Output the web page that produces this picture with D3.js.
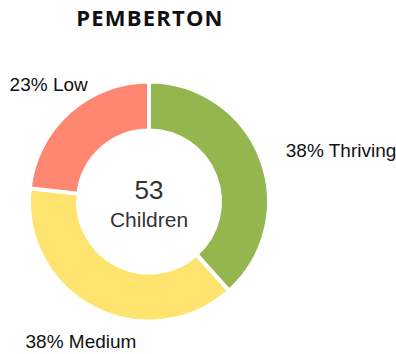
<!DOCTYPE html>
<html>
<head>
<meta charset="utf-8">
<script src="https://cdn.jsdelivr.net/npm/d3@7"></script>
<style>
  html, body { margin: 0; padding: 0; background: #fff; }
  svg { display: block; }
</style>
</head>
<body>
<svg id="chart" width="396" height="354"></svg>
<script>
// Wellbeing breakdown for one school
const title = "PEMBERTON";
const categories = ["Thriving", "Medium", "Low"];
const percents = [38, 38, 23];
const colors = ["#94b64f", "#ffe36f", "#ff8670"];
const totalCount = 53;
const totalLabel = "Children";

const svg = d3.select("#chart");
const cx = 149, cy = 201.5;
const outerR = 120, innerR = 71;

svg.append("text")
  .attr("x", 150).attr("y", 26)
  .attr("text-anchor", "middle")
  .attr("font-family", "'Open Sans', 'Noto Sans', sans-serif")
  .attr("font-weight", 700)
  .attr("font-size", 22)
  .attr("letter-spacing", 1.2)
  .attr("fill", "#111")
  .text(title);

const rows = categories.map((c, i) => ({ name: c, value: percents[i], color: colors[i] }));
const pie = d3.pie().sort(null).value(d => d.value);
const arcs = pie(rows);
const arc = d3.arc().innerRadius(innerR).outerRadius(outerR);
const labelArc = d3.arc().innerRadius(155).outerRadius(155);

const g = svg.append("g").attr("transform", `translate(${cx},${cy})`);

g.selectAll("path.slice")
  .data(arcs)
  .join("path")
  .attr("class", "slice")
  .attr("d", arc)
  .attr("fill", d => d.data.color)
  .attr("stroke", "#fff")
  .attr("stroke-width", 4)
  .attr("stroke-linejoin", "miter");

// Slice labels sit outside the ring; a label far to the side is anchored at its start
g.selectAll("text.lbl")
  .data(arcs)
  .join("text")
  .attr("class", "lbl")
  .each(function(d) {
    const [x, y] = labelArc.centroid(d);
    const mid = (d.startAngle + d.endAngle) / 2;
    const side = Math.sin(mid) > 0.9;
    d3.select(this)
      .attr("x", side ? x - 8 : x + 3)
      .attr("y", side ? y + 4 : y + (Math.cos(mid) > 0 ? -2 : 2))
      .attr("text-anchor", side ? "start" : "middle");
  })
  .attr("dy", "0.35em")
  .attr("font-family", "'Liberation Sans', Arial, sans-serif")
  .attr("font-size", 19)
  .attr("fill", "#111")
  .text(d => `${d.data.value}% ${d.data.name}`);

g.append("text")
  .attr("x", 0).attr("y", -3)
  .attr("text-anchor", "middle")
  .attr("font-family", "'Liberation Sans', Arial, sans-serif")
  .attr("font-size", 26)
  .attr("fill", "#333")
  .text(totalCount);

g.append("text")
  .attr("x", 0).attr("y", 25)
  .attr("text-anchor", "middle")
  .attr("font-family", "'Liberation Sans', Arial, sans-serif")
  .attr("font-size", 21)
  .attr("fill", "#333")
  .text(totalLabel);
</script>
</body>
</html>
